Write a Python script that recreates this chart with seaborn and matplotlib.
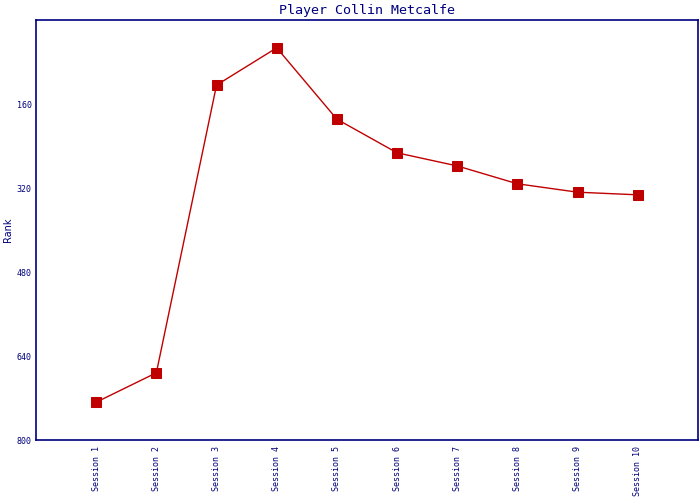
import pandas as pd
import matplotlib
matplotlib.use("Agg")
import matplotlib.pyplot as plt
import seaborn as sb

# data
sessions = ["Session 1", "Session 2", "Session 3", "Session 4", "Session 5",
            "Session 6", "Session 7", "Session 8", "Session 9", "Session 10"]
ranks = [728, 672, 124, 53, 189, 253, 278, 312, 328, 333]
y_ticks = [160, 320, 480, 640, 800]

df = pd.DataFrame({"session": range(len(sessions)), "rank": ranks})

sb.set_style("white")
plt.rcParams["font.family"] = ["DejaVu Sans Mono"]

navy = "#000080"
red = "#c00000"

fig = plt.figure(figsize=(7, 5), dpi=100)
ax = fig.add_axes([36 / 700, 60 / 500, 662 / 700, 420 / 500])

sb.lineplot(data=df, x="session", y="rank", ax=ax, color=red, linewidth=1.0,
            marker="s", markersize=7, markeredgecolor=red, markerfacecolor=red)

ax.set_xlim(-1, 10)
ax.set_ylim(800, 0)
ax.set_yticks(y_ticks)
ax.set_yticklabels([str(t) for t in y_ticks], fontsize=6, color=navy)
ax.set_xticks(range(len(sessions)))
ax.set_xticklabels(sessions, rotation=90, fontsize=6, color=navy)
ax.tick_params(axis="y", direction="in", length=4, width=1.2, color=navy, pad=3)
ax.tick_params(axis="x", length=0, pad=4)

for s in ax.spines.values():
    s.set_color(navy)
    s.set_linewidth(1.2)
    s.set_visible(True)

ax.set_xlabel("")
ax.set_ylabel("Rank", fontsize=7, color=navy, labelpad=3, family="DejaVu Sans")
ax.set_title("Player Collin Metcalfe", fontsize=9.6, color=navy, pad=4)

fig.savefig("out.png", dpi=100)
